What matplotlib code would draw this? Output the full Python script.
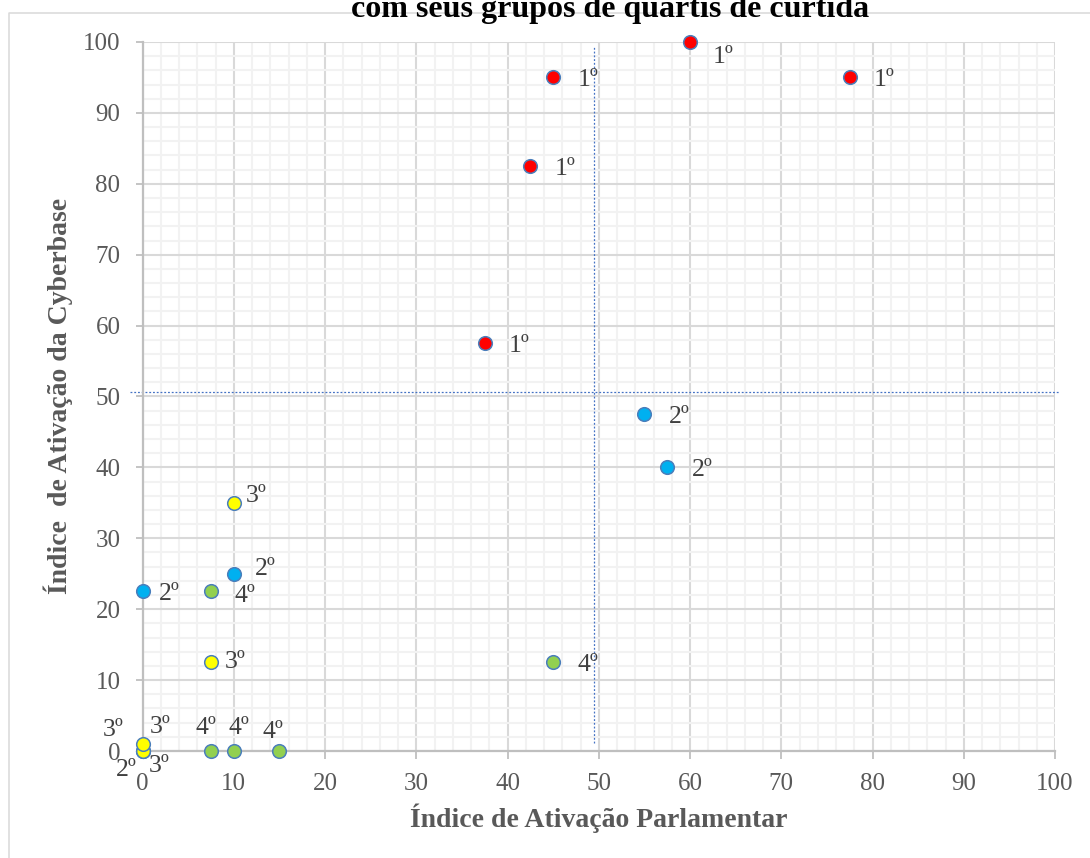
import matplotlib
matplotlib.use("Agg")
import matplotlib.pyplot as plt
from matplotlib.lines import Line2D
from matplotlib.ticker import MultipleLocator

# ---- data ----
groups = ["1º", "2º", "3º", "4º"]
x_g1 = [60, 45, 77.5, 42.5, 37.5]
y_g1 = [100, 95, 95, 82.5, 57.5]
x_g2 = [55, 57.5, 10, 0, 0]
y_g2 = [47.5, 40, 25, 22.5, 0]
x_g3 = [10, 7.5, 0, 0, 0]
y_g3 = [35, 12.5, 0, 0, 1]
x_g4 = [7.5, 45, 7.5, 10, 15]
y_g4 = [22.5, 12.5, 0, 0, 0]
ref_x = 49.5      # vertical reference line
ref_y = 50.6      # horizontal reference line
x_ticks = list(range(0, 101, 10))
y_ticks = list(range(0, 101, 10))

title_text = "com seus grupos de quartis de curtida"
x_label = "Índice de Ativação Parlamentar"
y_label = "Índice  de Ativação da Cyberbase"

# ---- styles ----
colors = {"1º": "#FF0000", "2º": "#00B0F0", "3º": "#FFFF00", "4º": "#92D050"}
# label offsets in pixels (dx right, dy down) per point
offsets = {
    "1º": [(33, 13), (35, 0), (34, 0), (35, 0), (34, 0)],
    "2º": [(35, 0), (35, 0), (32, -7), (27, 0), (-16, 17)],
    "3º": [(22, -9), (24, -3), (-29, -23), (17, 12.5), (18, -19)],
    "4º": [(34, 2), (35, 0), (-5, -25), (5, -26), (-6, -21)],
}
data = {"1º": (x_g1, y_g1), "2º": (x_g2, y_g2), "3º": (x_g3, y_g3), "4º": (x_g4, y_g4)}

W, H = 1090, 858
fig = plt.figure(figsize=(W / 100, H / 100), dpi=100)
fig.patch.set_facecolor("white")

L, R, T, B = 142.5, 1055, 42, 751
ax = fig.add_axes([L / W, 1 - B / H, (R - L) / W, (B - T) / H])
ax.set_xlim(0, 100)
ax.set_ylim(0, 100)

serif = "Liberation Serif"
tick_col = "#595959"

ax.xaxis.set_minor_locator(MultipleLocator(2))
ax.yaxis.set_minor_locator(MultipleLocator(2))
ax.set_xticks(x_ticks)
ax.set_yticks(y_ticks)
ax.grid(which="minor", color="#F2F2F2", linewidth=1.5, zorder=0)
ax.grid(which="major", color="#D9D9D9", linewidth=1.5, zorder=0)
ax.set_axisbelow(True)

for s in ["top", "right"]:
    ax.spines[s].set_visible(False)
for s in ["left", "bottom"]:
    ax.spines[s].set_color("#BFBFBF")
    ax.spines[s].set_linewidth(1.6)

ax.tick_params(which="major", direction="out", length=5.4, width=1.3, color="#BFBFBF",
               pad=10.5, labelsize=18, labelcolor=tick_col)
ax.tick_params(which="minor", length=0)
for lab in ax.get_xticklabels() + ax.get_yticklabels():
    lab.set_fontfamily(serif)

# reference lines
ax.plot([ref_x, ref_x], [1.1, 99.5], linestyle=(0, (1.5, 1.5)), color="#4472C4",
        linewidth=0.9, clip_on=False, zorder=2)
ax.plot([-1.4, 100.6], [ref_y, ref_y], linestyle=(0, (1.5, 1.5)), color="#4472C4",
        linewidth=0.9, clip_on=False, zorder=2)

# points and labels
for g in groups:
    xs, ys = data[g]
    ax.plot(xs, ys, linestyle="none", marker="o", markersize=9.8,
            markerfacecolor=colors[g], markeredgecolor="#4A7EBB", markeredgewidth=1.1,
            clip_on=False, zorder=3)
    for (x, y), (dx, dy) in zip(zip(xs, ys), offsets[g]):
        ax.annotate(g, (x, y), xytext=(dx * 0.72, -dy * 0.72), textcoords="offset points",
                    ha="center", va="center_baseline", fontsize=18.5, family=serif,
                    color="#404040", annotation_clip=False, zorder=4)

# axis labels
fig.text(599 / W, 1 - 818 / H, x_label, ha="center", va="center", fontsize=20,
         fontweight="bold", family=serif, color=tick_col)
fig.text(58 / W, 1 - 396 / H, y_label, ha="center", va="center", rotation=90,
         fontsize=20, fontweight="bold", family=serif, color=tick_col)

# title (partially cut at the top, as in the reference)
fig.text(610 / W, 1 - 17 / H, title_text, ha="center", va="baseline", fontsize=23,
         fontweight="bold", family=serif, color="black")

# chart area border
fig.add_artist(Line2D([9 / W, 9 / W, 1.0], [0.0, 1 - 13 / H, 1 - 13 / H],
                      transform=fig.transFigure, color="#D9D9D9", linewidth=1.1))

fig.savefig("out.png", dpi=100, facecolor="white")
